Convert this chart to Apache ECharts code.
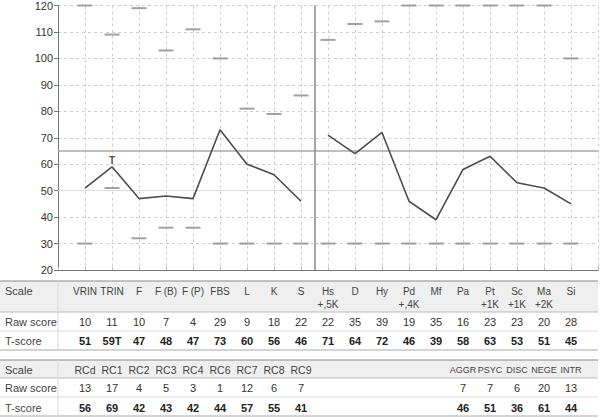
<!DOCTYPE html>
<html><head><meta charset="utf-8">
<script src="https://cdn.jsdelivr.net/npm/echarts@6/dist/echarts.min.js"></script>
<style>html,body{margin:0;padding:0;background:#fff}#c{width:600px;height:418px}</style>
</head><body><div id="c"></div>
<script>
// ---- data ----
const scales = ['VRIN','TRIN','F','F (B)','F (P)','FBS','L','K','S','Hs\n+,5K','D','Hy','Pd\n+,4K','Mf','Pa','Pt\n+1K','Sc\n+1K','Ma\n+2K','Si'];
const rawScores = [10,11,10,7,4,29,9,18,22,22,35,39,19,35,16,23,23,20,28];
const tScores = [51,59,47,48,47,73,60,56,46,71,64,72,46,39,58,63,53,51,45];
const tLabels = ['51','59T','47','48','47','73','60','56','46','71','64','72','46','39','58','63','53','51','45'];
const upperLimits = [120,109,119,103,111,100,81,79,86,107,113,114,120,120,120,120,120,120,100];
const lowerLimits = [30,51,32,36,36,30,30,30,30,30,30,30,30,30,30,30,30,30,30];
const rcScales = ['RCd','RC1','RC2','RC3','RC4','RC6','RC7','RC8','RC9'];
const rcRaw = [13,17,4,5,3,1,12,6,7];
const rcT = [56,69,42,43,42,44,57,55,41];
const psyScales = ['AGGR','PSYC','DISC','NEGE','INTR'];
const psyRaw = [7,7,6,20,13];
const psyT = [46,51,36,61,44];
const yTicks = {min:20, max:120, step:10};
const splitIndex = 9; // validity scales vs clinical scales

const FONT = '"Liberation Sans", Arial, sans-serif';
const chart = echarts.init(document.getElementById('c'), null, {renderer:'svg'});

const seg1 = tScores.slice(0, splitIndex).map((v,i)=> i===1 ? {value:[i+1,v], label:{show:true, formatter:'T', position:'top', distance:1, fontSize:10, fontWeight:'bold', color:'#555', fontFamily:FONT}} : [i+1,v]);
const seg2 = tScores.slice(splitIndex).map((v,i)=>[i+1+splitIndex, v]);

chart.setOption({
  animation:false,
  grid:{left:58, right:2, top:4, bottom:148},
  xAxis:{type:'value', min:0, max:scales.length+1, interval:1,
    axisLabel:{show:false},
    axisLine:{lineStyle:{color:'#777', width:1}},
    axisTick:{inside:true, length:3, lineStyle:{color:'#bbb'}},
    splitLine:{show:true, lineStyle:{type:[3,3], color:'#d0d0d0'}}},
  yAxis:{type:'value', min:yTicks.min, max:yTicks.max, interval:yTicks.step,
    axisLine:{show:true, lineStyle:{color:'#777'}},
    axisTick:{show:true, length:4, lineStyle:{color:'#777'}},
    axisLabel:{color:'#333', fontSize:11, margin:5, fontFamily:FONT},
    splitLine:{lineStyle:{type:[3,3], color:'#d0d0d0'}}},
  series:[
    {type:'scatter', symbol:'rect', symbolSize:[15,2], itemStyle:{color:'#8a8a8a'},
      data: upperLimits.map((v,i)=>[i+1,v]), z:3, silent:true},
    {type:'scatter', symbol:'rect', symbolSize:[15,2], itemStyle:{color:'#8a8a8a'},
      data: lowerLimits.map((v,i)=>[i+1,v]), z:3, silent:true},
    {type:'line', data:seg1, showSymbol:true, symbol:'circle', symbolSize:0.1, itemStyle:{color:'#4d4d4d'}, lineStyle:{color:'#4d4d4d', width:1.6}, z:5,
      markLine:{silent:true, symbol:'none', label:{show:false},
        data:[
          {yAxis:50, lineStyle:{type:'solid', color:'#dcdcdc', width:1}},
          {yAxis:65, lineStyle:{type:'solid', color:'#aaaaaa', width:1.5}},
          {xAxis:splitIndex+0.5, lineStyle:{type:'solid', color:'#888', width:1.5}}
        ]}},
    {type:'line', data:seg2, showSymbol:false, symbol:'none', lineStyle:{color:'#4d4d4d', width:1.6}, z:5}
  ]
});

// ---- tables ----
const px = i => chart.convertToPixel({xAxisIndex:0}, i);
const g = [];
const W = 598;
function hline(y, color, w){ g.push({type:'line', shape:{x1:0,y1:y,x2:W,y2:y}, style:{stroke:color, lineWidth:w||1}, silent:true}); }
function vline(x, y1, y2, color){ g.push({type:'line', shape:{x1:x,y1:y1,x2:x,y2:y2}, style:{stroke:color, lineWidth:1}, silent:true}); }
function txt(t, x, y, opts){ g.push(Object.assign({type:'text', x:x, y:y, silent:true,
  style:Object.assign({text:String(t), fill:'#333', fontSize:11, fontFamily:FONT, align:'center', verticalAlign:'middle'}, opts||{})})); }

// table 1
g.push({type:'rect', shape:{x:0,y:281,width:W,height:31}, style:{fill:'#efefef'}, silent:true});
hline(281,'#8a8a8a',1.2); hline(312,'#bbb'); hline(331,'#ddd'); hline(350,'#aaa',1.2);
vline(58,281,350,'#d8d8d8');
txt('Scale',5,291,{align:'left', fill:'#444'});
txt('Raw score',5,322,{align:'left', fill:'#444'});
txt('T-score',5,341,{align:'left', fill:'#444'});
scales.forEach((s,i)=>{
  const x = px(i+1);
  txt(s, x, 285, {verticalAlign:'top', lineHeight:13, fill:'#444', fontSize:10});
  txt(rawScores[i], x, 322);
  txt(tLabels[i], x, 341, {fontWeight:'bold', fill:'#222'});
});
// table 2
g.push({type:'rect', shape:{x:0,y:360,width:W,height:18}, style:{fill:'#efefef'}, silent:true});
hline(360,'#8a8a8a',1.2); hline(378,'#bbb'); hline(397,'#ddd'); hline(416,'#aaa',1.2);
vline(58,360,416,'#d8d8d8');
txt('Scale',5,370,{align:'left', fill:'#444'});
txt('Raw score',5,388,{align:'left', fill:'#444'});
txt('T-score',5,408,{align:'left', fill:'#444'});
rcScales.forEach((s,i)=>{
  const x = px(i+1);
  txt(s, x, 370, {fill:'#444', fontSize:10.5});
  txt(rcRaw[i], x, 388);
  txt(rcT[i], x, 408, {fontWeight:'bold', fill:'#222'});
});
psyScales.forEach((s,i)=>{
  const x = px(scales.length - psyScales.length + i + 1);
  txt(s, x, 370, {fill:'#444', fontSize:9});
  txt(psyRaw[i], x, 388);
  txt(psyT[i], x, 408, {fontWeight:'bold', fill:'#222'});
});
chart.setOption({graphic:{elements:g}});
</script></body></html>
